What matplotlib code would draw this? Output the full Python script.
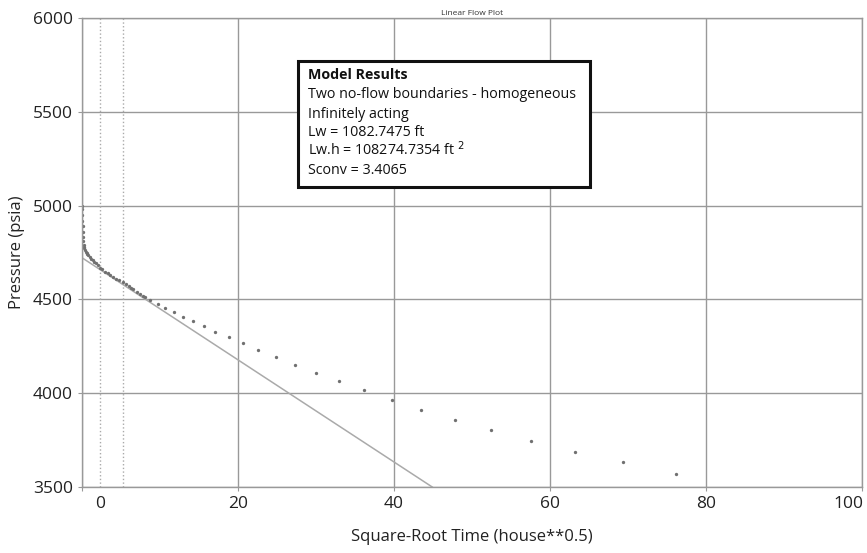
import matplotlib.pyplot as plt
import matplotlib.transforms as mtransforms

plt.rcParams['font.family'] = ['Open Sans', 'DejaVu Sans']

# square-root time (hours**0.5) and pressure (psia)
sqrt_t = [0.0, 0.02, 0.04, 0.06, 0.08, 0.1, 0.12, 0.15, 0.2, 0.25, 0.3, 0.4,
          0.5, 0.6, 0.7, 0.8, 1.0, 1.2, 1.4, 1.6, 1.8, 2.0, 2.3, 2.6, 3.0,
          3.3, 3.6, 4.0, 4.4, 4.8, 5.2, 5.6, 6.0, 6.3, 6.6, 7.0, 7.4, 7.8,
          8.1, 8.7, 9.8, 10.7, 11.8, 12.9, 14.2, 15.6, 17.1, 18.8, 20.6,
          22.6, 24.9, 27.3, 30.0, 32.9, 36.2, 39.8, 43.5, 47.8, 52.4, 57.6,
          63.2, 69.3, 76.1]
pressure = [5000, 4980, 4950, 4920, 4890, 4860, 4835, 4810, 4790, 4780, 4772,
            4762, 4752, 4745, 4740, 4735, 4726, 4718, 4708, 4700, 4692, 4684,
            4669, 4660, 4648, 4640, 4632, 4621, 4611, 4601, 4592, 4581, 4570,
            4562, 4553, 4542, 4531, 4520, 4512, 4496, 4477, 4456, 4432, 4408,
            4385, 4358, 4328, 4298, 4266, 4229, 4191, 4152, 4108, 4065, 4016,
            3962, 3910, 3858, 3803, 3746, 3689, 3631, 3570]

# straight-line fit of the linear flow period
fit_x = [0.0, 44.9]
fit_y = [4722, 3500]

# flow-regime markers
regime_x = [2.3, 5.3]

# results box lines
box_title = 'Model Results'
box_lines = ['Two no-flow boundaries - homogeneous',
             'Infinitely acting',
             'Lw = 1082.7475 ft',
             'Lw.h = 108274.7354 ft $^{2}$',
             'Sconv = 3.4065']

fig = plt.figure(figsize=(8.67, 5.53), dpi=100)
ax = fig.add_axes([82 / 867, 1 - 487 / 553, 780 / 867, 469 / 553])

ax.set_xlim(0, 100)
ax.set_ylim(3500, 6000)
ax.set_xticks([0, 20, 40, 60, 80, 100])
ax.set_yticks([3500, 4000, 4500, 5000, 5500, 6000])
ax.grid(True, color='#999999', linewidth=1.0)
ax.set_axisbelow(True)
for s in ax.spines.values():
    s.set_color('#999999')
    s.set_linewidth(1.0)
ax.tick_params(length=3, color='#999999', labelsize=12.5, labelcolor='#222222')

for xv in regime_x:
    ax.axvline(xv, color='#aaaaaa', linestyle=':', linewidth=1.0)

ax.plot(fit_x, fit_y, color='#aaaaaa', linewidth=1.1)
ax.plot(sqrt_t, pressure, linestyle='none', marker='o', markersize=2.4,
        color='#707070', markeredgewidth=0)

# nudge the end tick labels inward like the original
labels = ax.get_xticklabels()
labels[0].set_transform(labels[0].get_transform() +
                        mtransforms.ScaledTranslation(18 / 100, 0, fig.dpi_scale_trans))
labels[-1].set_transform(labels[-1].get_transform() +
                         mtransforms.ScaledTranslation(-14 / 100, 0, fig.dpi_scale_trans))

ax.set_xlabel('Square-Root Time (house**0.5)', fontsize=12, color='#222222', labelpad=12)
ax.set_ylabel('Pressure (psia)', fontsize=12, color='#222222', labelpad=6)
ax.set_title('Linear Flow Plot', fontsize=6, color='#333333', pad=2)

fig.patches.append(plt.Rectangle((298 / 867, 1 - 187 / 553), 292 / 867, 126 / 553,
                                 transform=fig.transFigure, facecolor='white',
                                 edgecolor='#111111', linewidth=2.2, zorder=5))
fig.text(308 / 867, 1 - 79 / 553, box_title, fontsize=10.3, fontweight='bold',
         va='baseline', color='#111111', zorder=6)
for i, line in enumerate(box_lines):
    base = 98.5 + i * 19
    fig.text(308 / 867, 1 - base / 553, line, fontsize=10.3, va='baseline',
             color='#111111', zorder=6)

fig.savefig('out.png', dpi=100)
